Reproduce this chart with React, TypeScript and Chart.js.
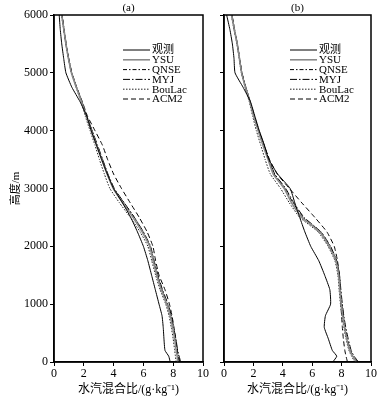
import React, { useEffect, useRef } from "react";
import { Chart, registerables } from "chart.js";

Chart.register(...registerables);

// ---------- data ----------
const heights = [0, 100, 200, 400, 600, 800, 1000, 1250, 1500, 1750, 2000, 2250, 2500, 2750, 3000, 3250, 3500, 3750, 4000, 4250, 4500, 4750, 5000, 5250, 5500, 5750, 6000];

const seriesNames = ["观测", "YSU", "QNSE", "MYJ", "BouLac", "ACM2"];

// panel (a)
const obsA = [7.8, 7.7, 7.45, 7.38, 7.33, 7.25, 7.05, 6.8, 6.55, 6.3, 6.0, 5.6, 5.15, 4.6, 4.0, 3.58, 3.2, 2.85, 2.5, 2.2, 1.75, 1.2, 0.8, 0.65, 0.52, 0.42, 0.35];
const ysuA = [8.3, 8.27, 8.2, 8.1, 7.96, 7.8, 7.57, 7.2, 6.9, 6.65, 6.42, 5.92, 5.3, 4.62, 3.98, 3.56, 3.2, 2.86, 2.5, 2.16, 1.85, 1.5, 1.17, 0.97, 0.8, 0.66, 0.52];
const qnseA = [8.45, 8.35, 8.27, 8.15, 8.0, 7.85, 7.62, 7.25, 6.95, 6.7, 6.45, 5.98, 5.38, 4.7, 4.02, 3.6, 3.25, 2.9, 2.55, 2.2, 1.88, 1.52, 1.2, 0.99, 0.82, 0.68, 0.55];
const myjA = [8.5, 8.4, 8.3, 8.18, 8.03, 7.88, 7.65, 7.28, 6.98, 6.72, 6.48, 6.0, 5.4, 4.72, 4.05, 3.62, 3.27, 2.92, 2.56, 2.2, 1.87, 1.51, 1.18, 0.98, 0.81, 0.67, 0.54];
const boulacA = [8.2, 8.15, 8.1, 8.0, 7.87, 7.72, 7.5, 7.12, 6.82, 6.56, 6.3, 5.78, 5.12, 4.4, 3.75, 3.38, 3.05, 2.75, 2.42, 2.1, 1.82, 1.48, 1.16, 0.96, 0.79, 0.65, 0.5];
const acm2A = [8.4, 8.33, 8.27, 8.17, 8.05, 7.92, 7.75, 7.45, 7.05, 6.82, 6.64, 6.25, 5.72, 5.12, 4.53, 4.0, 3.6, 3.25, 2.75, 2.25, 1.9, 1.53, 1.19, 0.98, 0.8, 0.66, 0.53];

// panel (b)
const obsB = [7.4, 7.67, 7.37, 7.1, 6.82, 6.9, 7.25, 7.2, 6.85, 6.45, 5.9, 5.5, 5.15, 4.82, 4.5, 3.65, 3.05, 2.75, 2.4, 2.1, 1.8, 1.3, 0.75, 0.68, 0.57, 0.4, 0.18];
const ysuB = [9.0, 8.75, 8.55, 8.35, 8.2, 8.07, 7.97, 7.88, 7.8, 7.6, 7.15, 6.5, 5.3, 4.6, 4.1, 3.35, 3.0, 2.65, 2.32, 2.02, 1.76, 1.46, 1.2, 1.05, 0.9, 0.7, 0.52];
const qnseB = [9.1, 8.8, 8.6, 8.4, 8.25, 8.12, 8.02, 7.93, 7.85, 7.65, 7.22, 6.58, 5.4, 4.7, 4.15, 3.42, 3.05, 2.7, 2.36, 2.05, 1.78, 1.48, 1.22, 1.06, 0.91, 0.72, 0.55];
const myjB = [9.15, 8.85, 8.65, 8.45, 8.28, 8.15, 8.05, 7.95, 7.86, 7.67, 7.25, 6.6, 5.45, 4.75, 4.2, 3.45, 3.08, 2.72, 2.38, 2.06, 1.79, 1.49, 1.22, 1.06, 0.91, 0.71, 0.54];
const boulacB = [8.9, 8.68, 8.5, 8.3, 8.15, 8.02, 7.92, 7.83, 7.75, 7.55, 7.08, 6.4, 5.15, 4.45, 3.85, 3.15, 2.8, 2.5, 2.2, 1.95, 1.72, 1.43, 1.18, 1.03, 0.88, 0.68, 0.5];
const acm2B = [8.4, 8.3, 8.22, 8.12, 8.05, 8.0, 7.95, 7.9, 7.85, 7.72, 7.5, 7.0, 6.18, 5.3, 4.45, 3.62, 3.1, 2.72, 2.36, 2.04, 1.77, 1.47, 1.21, 1.05, 0.9, 0.7, 0.53];

const xTicks = [0, 2, 4, 6, 8, 10];
const yTicks = [0, 1000, 2000, 3000, 4000, 5000, 6000];
const xTitle = "水汽混合比/(g·kg⁻¹)";
const yTitle = "高度/m";

// ---------- styles ----------
const FONT = '"Liberation Serif", "Noto Sans CJK SC", serif';
const styles = [
  { color: "#000", dash: [] as number[], width: 1 },
  { color: "#8a8a8a", dash: [] as number[], width: 1.6 },
  { color: "#000", dash: [4, 2, 1.5, 2], width: 1 },
  { color: "#000", dash: [7, 2, 1.5, 2], width: 1 },
  { color: "#222", dash: [1.5, 1.5], width: 1 },
  { color: "#000", dash: [5, 3], width: 1 },
];

function makeDatasets(series: number[][]) {
  return series.map((vals, i) => ({
    label: seriesNames[i],
    data: heights.map((h, k) => ({ x: vals[k], y: h })),
    borderColor: styles[i].color,
    borderDash: styles[i].dash,
    borderWidth: styles[i].width,
    pointRadius: 0,
    fill: false,
    tension: 0.15,
  }));
}

const framePlugin = {
  id: "frame",
  afterDraw(chart: any) {
    const { ctx, chartArea } = chart;
    ctx.save();
    ctx.strokeStyle = "#000";
    ctx.lineWidth = 1.5;
    ctx.strokeRect(chartArea.left, chartArea.top, chartArea.right - chartArea.left, chartArea.bottom - chartArea.top);
    ctx.restore();
  },
};

const legendPlugin = {
  id: "customLegend",
  afterDatasetsDraw(chart: any) {
    const o = chart.options.plugins.customLegend;
    const { ctx } = chart;
    ctx.save();
    chart.data.datasets.forEach((ds: any, i: number) => {
      const y = o.y + i * o.row;
      ctx.strokeStyle = ds.borderColor;
      ctx.lineWidth = ds.borderWidth;
      ctx.setLineDash(ds.borderDash);
      ctx.beginPath();
      ctx.moveTo(o.x, y);
      ctx.lineTo(o.x + o.len, y);
      ctx.stroke();
      ctx.setLineDash([]);
      ctx.fillStyle = "#000";
      ctx.font = `11px ${FONT}`;
      ctx.textBaseline = "middle";
      ctx.textAlign = "left";
      ctx.fillText(ds.label, o.x + o.len + 2, y + 0.5);
    });
    ctx.restore();
  },
};

const titlePlugin = {
  id: "panelTitle",
  afterDraw(chart: any) {
    const o = chart.options.plugins.panelTitle;
    const { ctx, chartArea } = chart;
    ctx.save();
    ctx.fillStyle = "#000";
    ctx.font = `11px ${FONT}`;
    ctx.textAlign = "center";
    ctx.textBaseline = "middle";
    ctx.fillText(o.text, (chartArea.left + chartArea.right) / 2, o.y);
    ctx.restore();
  },
};

function makeConfig(series: number[][], opts: { showY: boolean; yWidth: number; padRight: number; title: string; legendX: number }) {
  return {
    type: "line" as const,
    data: { datasets: makeDatasets(series) },
    plugins: [framePlugin, legendPlugin, titlePlugin],
    options: {
      animation: false,
      responsive: false,
      maintainAspectRatio: false,
      layout: { padding: { top: 15, right: opts.padRight, bottom: 0, left: 0 } },
      plugins: {
        legend: { display: false },
        tooltip: { enabled: false },
        customLegend: { x: opts.legendX, y: 50, row: 9.8, len: 27 },
        panelTitle: { text: opts.title, y: 8 },
      },
      scales: {
        x: {
          type: "linear",
          min: 0,
          max: 10,
          afterBuildTicks: (s: any) => { s.ticks = xTicks.map((v) => ({ value: v })); },
          afterFit: (s: any) => { s.height = 37; },
          border: { display: true, color: "#000", width: 1.5 },
          grid: { display: true, drawOnChartArea: false, drawTicks: true, tickLength: 4, color: "#000", lineWidth: 1 },
          ticks: { color: "#000", padding: 1, maxRotation: 0, callback: (v: any) => String(v), font: { family: FONT, size: 12 } },
          title: { display: true, text: xTitle, color: "#000", padding: { top: 0, bottom: 2 }, font: { family: FONT, size: 12 } },
        },
        y: {
          type: "linear",
          min: 0,
          max: 6000,
          afterBuildTicks: (s: any) => { s.ticks = yTicks.map((v) => ({ value: v })); },
          afterFit: (s: any) => { s.width = opts.yWidth; },
          border: { display: true, color: "#000", width: 1.5 },
          grid: { display: true, drawOnChartArea: false, drawTicks: true, tickLength: 4, color: "#000", lineWidth: 1 },
          ticks: { display: opts.showY, color: "#000", padding: 2, callback: (v: any) => String(v), font: { family: FONT, size: 12 } },
          title: { display: opts.showY, text: yTitle, color: "#000", padding: { top: 10, bottom: 0 }, font: { family: FONT, size: 11 } },
        },
      },
    },
  };
}

function Panel({ series, left, width, cfg }: { series: number[][]; left: number; width: number; cfg: any }) {
  const ref = useRef<HTMLCanvasElement>(null);
  useEffect(() => {
    const chart = new Chart(ref.current!, makeConfig(series, cfg) as any);
    return () => chart.destroy();
  }, []);
  return (
    <canvas
      ref={ref}
      width={width}
      height={399}
      style={{ position: "absolute", left, top: 0, width, height: 399 }}
    />
  );
}

export default function App() {
  return (
    <div style={{ position: "absolute", left: 0, top: 0, width: 386, height: 399, background: "#fff" }}>
      <Panel
        series={[obsA, ysuA, qnseA, myjA, boulacA, acm2A]}
        left={0}
        width={210}
        cfg={{ showY: true, yWidth: 54, padRight: 7, title: "(a)", legendX: 123 }}
      />
      <Panel
        series={[obsB, ysuB, qnseB, myjB, boulacB, acm2B]}
        left={210}
        width={176}
        cfg={{ showY: false, yWidth: 14, padRight: 15, title: "(b)", legendX: 80 }}
      />
    </div>
  );
}
